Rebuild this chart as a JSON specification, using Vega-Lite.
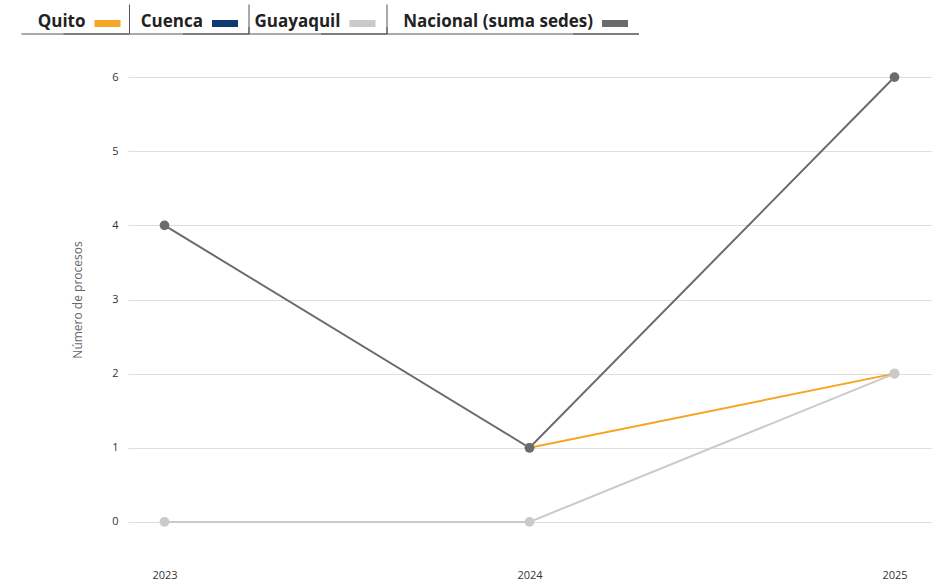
{
  "$schema": "https://vega.github.io/schema/vega-lite/v6.json",
  "width": 803,
  "height": 519,
  "autosize": {"type": "none"},
  "padding": {"left": 128, "top": 40, "right": 8, "bottom": 22},
  "background": "white",
  "config": {
    "view": {"stroke": null},
    "font": "Open Sans"
  },
  "data": {
    "values": [
      {"sede": "Quito", "anio": "2024", "procesos": 1},
      {"sede": "Quito", "anio": "2025", "procesos": 2},
      {"sede": "Guayaquil", "anio": "2023", "procesos": 0},
      {"sede": "Guayaquil", "anio": "2024", "procesos": 0},
      {"sede": "Guayaquil", "anio": "2025", "procesos": 2},
      {"sede": "Nacional (suma sedes)", "anio": "2023", "procesos": 4},
      {"sede": "Nacional (suma sedes)", "anio": "2024", "procesos": 1},
      {"sede": "Nacional (suma sedes)", "anio": "2025", "procesos": 6}
    ]
  },
  "encoding": {
    "x": {
      "field": "anio",
      "type": "ordinal",
      "scale": {"type": "point", "padding": 0.1},
      "axis": {
        "title": null,
        "labelAngle": 0,
        "domain": false,
        "ticks": false,
        "labelFontSize": 11,
        "labelColor": "#333333",
        "labelPadding": 10
      }
    },
    "y": {
      "field": "procesos",
      "type": "quantitative",
      "scale": {"domain": [-0.5, 6.5], "nice": false, "zero": false},
      "axis": {
        "title": "Número de procesos",
        "titleFontSize": 12,
        "titleFontWeight": "normal",
        "titleColor": "#666666",
        "titlePadding": 27,
        "values": [0, 1, 2, 3, 4, 5, 6],
        "domain": false,
        "ticks": false,
        "labelFontSize": 11,
        "labelColor": "#333333",
        "labelPadding": 10,
        "gridColor": "#dddddd",
        "gridWidth": 1
      }
    }
  },
  "layer": [
    {
      "mark": {"type": "line", "strokeWidth": 2},
      "encoding": {
        "stroke": {
          "field": "sede",
          "type": "nominal",
          "scale": {
            "domain": ["Nacional (suma sedes)", "Guayaquil", "Cuenca", "Quito"],
            "range": ["#6b6b6e", "#cacaca", "#0d3b70", "#f5a623"]
          },
          "legend": null
        },
        "detail": {"field": "sede"}
      }
    },
    {
      "mark": {"type": "point", "filled": true, "size": 95, "opacity": 1},
      "encoding": {
        "fill": {
          "field": "sede",
          "type": "nominal",
          "scale": {
            "domain": ["Quito", "Cuenca", "Guayaquil", "Nacional (suma sedes)"],
            "range": ["#f5a623", "#0d3b70", "#cacaca", "#6b6b6e"]
          },
          "legend": {
            "title": null,
            "orient": "none",
            "legendX": -29,
            "legendY": -25,
            "padding": 0,
            "direction": "horizontal",
            "symbolType": "M-13,-3.5H13V3.5H-13Z",
            "symbolSize": 4,
            "symbolStrokeWidth": 1,
            "symbolStrokeColor": "#555555",
            "symbolDash": [0, 66, 5000, 0],
            "symbolOpacity": 1,
            "labelFontSize": 17,
            "labelFontWeight": "bold",
            "labelColor": "#222222",
            "labelAlign": "right",
            "labelBaseline": "alphabetic",
            "labelOffset": -30.5,
            "columnPadding": -4.5,
            "labelLimit": 300,
            "encode": {
              "symbols": {
                "update": {
                  "shape": {"signal": "datum.value === 'Quito' ? 'M-13,-3.5H13V3.5H-13Z M22,10.5V-19V10.5V3.5V10.5V-19 M22,10.5H-44H22H-86' : datum.value === 'Cuenca' ? 'M-13,-3.5H13V3.5H-13Z M24,10.5V-19V10.5V3.5V10.5V-19 M24,10.5H-42H24H-95' : datum.value === 'Guayaquil' ? 'M-13,-3.5H13V3.5H-13Z M24.5,10.5V-19V10.5V3.5V10.5V-19 M24.5,10.5H-41.5H24.5H-113.5' : 'M-13,-3.5H13V3.5H-13Z M24,10.5H-42H24H-228'"},
                  "stroke": {"value": "#555555"},
                  "strokeWidth": {"value": 1},
                  "strokeDash": {"value": [0, 66, 5000, 0]},
                  "opacity": {"value": 1}
                }
              },
              "labels": {
                "update": {
                  "dy": {"value": 3}
                }
              }
            }
          }
        }
      }
    }
  ]
}
